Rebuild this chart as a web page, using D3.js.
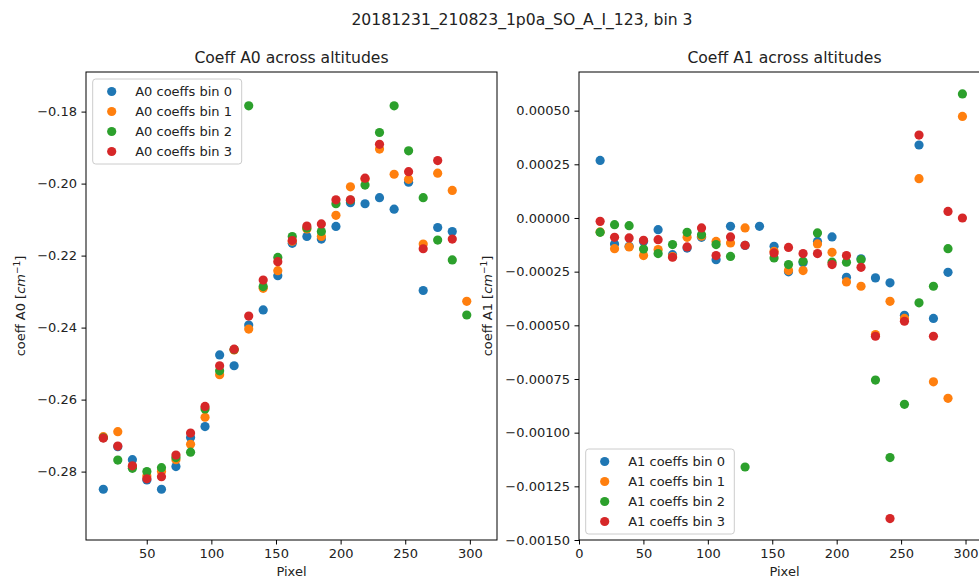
<!DOCTYPE html>
<html>
<head>
<meta charset="utf-8">
<script src="https://cdn.jsdelivr.net/npm/d3@7"></script>
<style>
  html, body { margin: 0; padding: 0; background: #ffffff; overflow: hidden; }
  svg { display: block; font-family: "DejaVu Sans", sans-serif; }
</style>
</head>
<body>
<svg id="chart" width="979" height="580"></svg>
<script>
// Detector pixel positions of the spectral bins
const pixels = [16.4, 27.6, 38.9, 50.1, 61.4, 72.6, 83.9, 95.1, 106.4, 117.6, 128.9, 140.1, 151.4,
                162.6, 173.9, 185.1, 196.4, 207.6, 218.9, 230.1, 241.4, 252.6, 263.9, 275.1, 286.4, 297.6];

// A0 coefficients, one array per bin
const a0Bin0 = [-0.2849, -0.2731, -0.2767, -0.2823, -0.2849, -0.2786, -0.2705, -0.2675, -0.2476, -0.2506, -0.2393, -0.2351, -0.2256,
                -0.2166, -0.2147, -0.2154, -0.2119, -0.2053, -0.2056, -0.2039, -0.2071, -0.1996, -0.2297, -0.2122, -0.2133, null];
const a0Bin1 = [-0.2703, -0.2689, -0.2786, -0.2812, -0.2800, -0.2767, -0.2724, -0.2649, -0.2531, -0.2462, -0.2404, -0.2291, -0.2242,
                -0.2160, -0.2126, -0.2147, -0.2088, -0.2009, -0.1987, -0.1904, -0.1974, -0.1988, -0.2168, -0.1971, -0.2019, -0.2327];
const a0Bin2 = [-0.2706, -0.2768, -0.2791, -0.2800, -0.2789, -0.2761, -0.2746, -0.2626, -0.2520, -0.2461, -0.1784, -0.2286, -0.2205,
                -0.2147, -0.2123, -0.2133, -0.2056, -0.2046, -0.2004, -0.1858, -0.1784, -0.1909, -0.2039, -0.2157, -0.2212, -0.2365];
const a0Bin3 = [-0.2707, -0.2729, -0.2784, -0.2820, -0.2814, -0.2754, -0.2693, -0.2619, -0.2506, -0.2460, -0.2368, -0.2268, -0.2217,
                -0.2158, -0.2118, -0.2112, -0.2045, -0.2045, -0.1985, -0.1891, -0.1675, -0.1967, -0.2181, -0.1936, -0.2154, null];

// A1 coefficients, one array per bin
const a1Bin0 = [0.000268, -0.000121, -0.000132, -0.000110, -0.0000544, -0.000171, -0.000140, -0.000090, -0.000194, -0.000039, -0.000128, -0.000039, -0.000132,
                -0.000251, -0.000209, -0.000109, -0.0000884, -0.000276, -0.000190, -0.000279, -0.000302, -0.000453, 0.000340, -0.000468, -0.000253, null];
const a1Bin1 = [-0.000065, -0.000143, -0.000135, -0.000175, -0.000147, -0.000180, -0.000090, -0.000085, -0.000109, -0.000116, -0.0000465, null, -0.000155,
                -0.000245, -0.000245, -0.000121, -0.000160, -0.000298, -0.000318, -0.000543, -0.000388, -0.000468, 0.000183, -0.000763, -0.000840, 0.000473];
const a1Bin2 = [-0.000067, -0.0000312, -0.0000358, -0.000144, -0.000166, -0.000124, -0.000067, -0.0000777, -0.000124, -0.000179, -0.00116, null, -0.000186,
                -0.000217, -0.000202, -0.0000698, -0.000206, -0.000206, -0.000194, -0.000755, -0.001116, -0.000868, -0.000395, -0.000318, -0.000143, 0.000578];
const a1Bin3 = [-0.0000158, -0.000090, -0.000093, -0.000104, -0.000101, -0.000183, -0.000135, -0.0000465, -0.000175, -0.0000884, -0.000127, null, -0.000163,
                -0.000137, -0.000166, -0.000166, -0.000217, -0.000175, -0.000230, -0.000551, -0.001400, -0.000481, 0.000386, -0.000551, 0.0000307, 0.0000];

const binLabels = ["bin 0", "bin 1", "bin 2", "bin 3"];
const xTicksA0 = [50, 100, 150, 200, 250, 300];
const xTicksA1 = [0, 50, 100, 150, 200, 250, 300];
const yTicksA0 = [-0.28, -0.26, -0.24, -0.22, -0.20, -0.18];
const yTicksA1 = [-0.0015, -0.00125, -0.001, -0.00075, -0.0005, -0.00025, 0, 0.00025, 0.0005];

const colors = ["#1f77b4", "#ff7f0e", "#2ca02c", "#d62728"];
const svg = d3.select("#chart");
const minus = s => s.replace("-", "\u2212");

svg.append("text")
  .attr("x", 522).attr("y", 25)
  .attr("text-anchor", "middle")
  .attr("font-size", 15.6).attr("fill", "#222")
  .text("20181231_210823_1p0a_SO_A_I_123, bin 3");

function panel(opt) {
  const {left, top, width, height} = opt;
  const g = svg.append("g");
  const x = d3.scaleLinear().domain(opt.xDomain).range([left, left + width]);
  const y = d3.scaleLinear().domain(opt.yDomain).range([top + height, top]);

  const clipId = "clip-" + opt.key;
  svg.append("clipPath").attr("id", clipId)
    .append("rect").attr("x", left).attr("y", top).attr("width", width).attr("height", height);

  // points, one series per bin, drawn in bin order
  const plot = g.append("g").attr("clip-path", `url(#${clipId})`);
  opt.series.forEach((vals, si) => {
    const pts = pixels.map((p, i) => ({p, v: vals[i]})).filter(d => d.v !== null);
    plot.append("g").selectAll("circle").data(pts).join("circle")
      .attr("cx", d => x(d.p)).attr("cy", d => y(d.v))
      .attr("r", 4.6).attr("fill", colors[si]);
  });

  // axes
  const xAxis = d3.axisBottom(x).tickValues(opt.xTicks).tickSize(4.5).tickPadding(4.5).tickFormat(d3.format("d"));
  const yAxis = d3.axisLeft(y).tickValues(opt.yTicks).tickSize(4.5).tickPadding(4.5)
    .tickFormat(d => minus(d3.format(opt.yFmt)(d)));
  const gx = g.append("g").attr("transform", `translate(0,${top + height})`).call(xAxis);
  const gy = g.append("g").attr("transform", `translate(${left},0)`).call(yAxis);
  [gx, gy].forEach(a => {
    a.select(".domain").remove();
    a.selectAll("line").attr("stroke", "#000").attr("stroke-width", 1);
    a.selectAll("text").attr("font-size", 13).attr("fill", "#222").attr("font-family", "DejaVu Sans");
  });

  g.append("rect").attr("x", left).attr("y", top).attr("width", width).attr("height", height)
    .attr("fill", "none").attr("stroke", "#000").attr("stroke-width", 1);

  g.append("text").attr("x", left + width / 2).attr("y", top - 9)
    .attr("text-anchor", "middle").attr("font-size", 15.6).attr("fill", "#222")
    .text(opt.title);

  g.append("text").attr("x", left + width / 2).attr("y", 576)
    .attr("text-anchor", "middle").attr("font-size", 13).attr("fill", "#222")
    .text("Pixel");

  const yl = g.append("text")
    .attr("transform", `translate(${opt.yLabelX},${top + height / 2}) rotate(-90)`)
    .attr("text-anchor", "middle").attr("font-size", 13).attr("fill", "#222");
  yl.append("tspan").text(opt.yLabel + " [");
  yl.append("tspan").attr("font-style", "italic").text("cm");
  yl.append("tspan").attr("font-size", 9).attr("dy", -5).text("\u22121");
  yl.append("tspan").attr("dy", 5).text("]");

  // legend
  const L = opt.legend;
  const lg = g.append("g");
  lg.append("rect").attr("x", L.x).attr("y", L.y).attr("width", L.w).attr("height", L.h)
    .attr("rx", 3).attr("fill", "#fff").attr("fill-opacity", 0.8)
    .attr("stroke", "#cccccc").attr("stroke-width", 1);
  binLabels.forEach((b, i) => {
    const cy = L.y + 12.5 + i * 20;
    lg.append("circle").attr("cx", L.x + 19).attr("cy", cy).attr("r", 4.6).attr("fill", colors[i]);
    lg.append("text").attr("x", L.x + 42.5).attr("y", cy + 4.6)
      .attr("font-size", 13).attr("fill", "#222")
      .text(`${opt.prefix} coeffs ${b}`);
  });
}

panel({
  key: "a0", left: 86, top: 72, width: 411, height: 468,
  xDomain: [3, 321], yDomain: [-0.299, -0.169],
  xTicks: xTicksA0, yTicks: yTicksA0, yFmt: ".2f",
  series: [a0Bin0, a0Bin1, a0Bin2, a0Bin3],
  title: "Coeff A0 across altitudes", yLabel: "coeff A0", yLabelX: 25, prefix: "A0",
  legend: {x: 92.7, y: 79, w: 149, h: 85}
});

panel({
  key: "a1", left: 579, top: 72, width: 411, height: 468,
  xDomain: [0, 319], yDomain: [-0.0015, 0.00068],
  xTicks: xTicksA1, yTicks: yTicksA1, yFmt: ".5f",
  series: [a1Bin0, a1Bin1, a1Bin2, a1Bin3],
  title: "Coeff A1 across altitudes", yLabel: "coeff A1", yLabelX: 492, prefix: "A1",
  legend: {x: 585.7, y: 449, w: 148.6, h: 85}
});
</script>
</body>
</html>
